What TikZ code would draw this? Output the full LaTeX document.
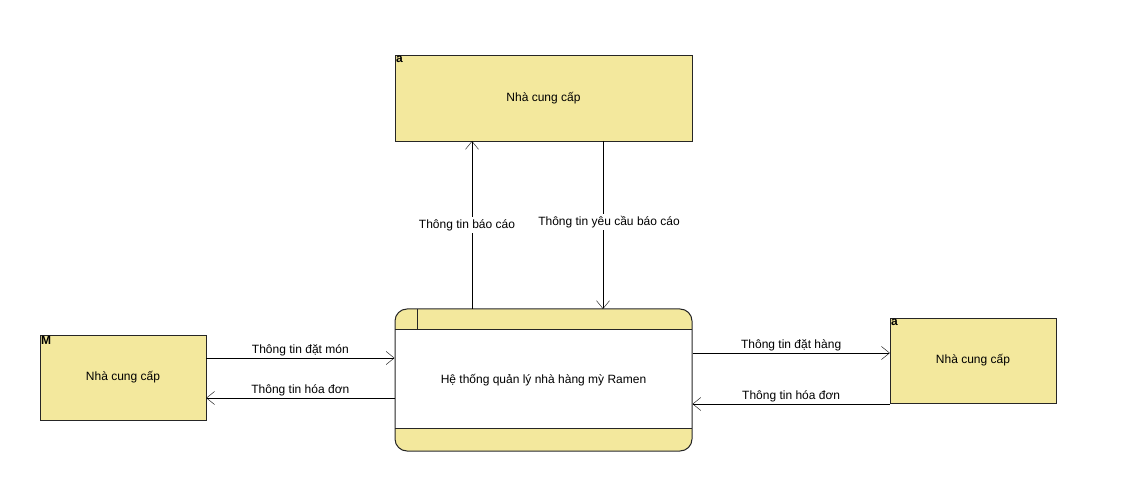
\documentclass[tikz,border=0pt]{standalone}
\usepackage{fontspec}
\setmainfont{Liberation Sans}
\usepackage{tikz}
\usetikzlibrary{arrows.meta}
\definecolor{khaki}{RGB}{243,232,157}

\begin{document}
\begin{tikzpicture}[x=1pt,y=-1pt,>={Straight Barb[length=8pt,width=13pt]},font=\fontsize{12}{14}\selectfont]

\tikzstyle{entity}=[draw=black!85,fill=khaki,minimum width=166pt,minimum height=85pt,inner sep=0pt]
\tikzstyle{tag}=[anchor=north west,inner sep=1pt,font=\bfseries\fontsize{12}{12}\selectfont]
\tikzstyle{flow}=[->,black]
\tikzstyle{lbl}=[fill=white,inner sep=2pt]
\tikzstyle{up}=[above,inner sep=2pt]

    \useasboundingbox (0,0) rectangle (1121,502);

    % external entities
    \node[entity,minimum width=297pt,minimum height=86pt] (S) at (543.5,98) {Nhà cung cấp};
    \node[entity] (K) at (123,377.5) {Nhà cung cấp};
    \node[entity] (N) at (973,360.5) {Nhà cung cấp};
    \node[tag] at (S.north west) {a};
    \node[tag] at (K.north west) {M};
    \node[tag] at (N.north west) {a};

    % process
    \begin{scope}
    \clip[rounded corners=12pt] (395,309) rectangle (692,451);
    \fill[white] (395,309) rectangle (692,451);
    \fill[khaki] (395,309) rectangle (692,329);
    \fill[khaki] (395,428) rectangle (692,451);
    \end{scope}
    \node[draw=black!85,line width=1pt,rounded corners=12pt,minimum width=297pt,minimum height=142pt,inner sep=0pt] (P) at (543.5,380) {Hệ thống quản lý nhà hàng mỳ Ramen};
    \draw[black!85] (395,329) -- (692,329) (395,428) -- (692,428) (417,309) -- (417,329);

    \coordinate (P1) at (472,309);
    \coordinate (S1) at (472,141);
    \coordinate (S2) at (603,141);
    \coordinate (P2) at (603,309);

\path
    (P1) edge[flow] node[lbl,xshift=-5pt]{Thông tin báo cáo} (S1)
    (S2) edge[flow] node[lbl,xshift=6pt,yshift=3pt]{Thông tin yêu cầu báo cáo} (P2)
    (K.east |- 0,358) edge[flow] node[up]{Thông tin đặt món} (P.west |- 0,358)
    (P.west |- 0,398) edge[flow] node[up]{Thông tin hóa đơn} (K.east |- 0,398)
    (P.east |- 0,353) edge[flow] node[up]{Thông tin đặt hàng} (N.west |- 0,353)
    (N.west |- 0,404) edge[flow] node[up]{Thông tin hóa đơn} (P.east |- 0,404);
\end{tikzpicture}
\end{document}
